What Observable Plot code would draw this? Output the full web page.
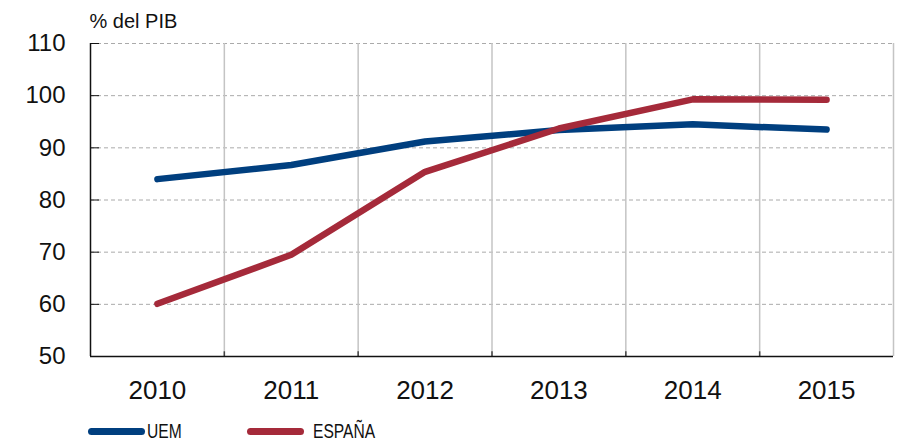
<!DOCTYPE html>
<html>
<head>
<meta charset="utf-8">
<script src="https://cdn.jsdelivr.net/npm/d3@7"></script>
<script src="https://cdn.jsdelivr.net/npm/@observablehq/plot@0.6"></script>
<style>
  html, body { margin: 0; padding: 0; background: #fff; }
  #wrap { position: relative; width: 898px; height: 442px; overflow: hidden; font-family: "Liberation Sans", Arial, sans-serif; }
  #legend { position: absolute; left: 0; top: 418px; width: 898px; height: 24px; }
  .sw { position: absolute; height: 7px; border-radius: 3.5px; top: 10px; }
  .lab { position: absolute; top: 3px; font-family: "Liberation Sans", Arial, sans-serif; font-size: 20px; line-height: 20px; color: #111; transform: scaleX(0.78); transform-origin: 0 50%; white-space: nowrap; }
</style>
</head>
<body>
<div id="wrap">
  <div id="chart"></div>
  <div id="legend"></div>
</div>
<script>
const years = [2010, 2011, 2012, 2013, 2014, 2015];
const uem = [84.0, 86.7, 91.2, 93.4, 94.5, 93.5];
const espana = [60.1, 69.5, 85.4, 93.7, 99.3, 99.2];
const seriesNames = ["UEM", "ESPAÑA"];
const seriesColors = ["#003f7f", "#a52a3a"];
const yTicks = [50, 60, 70, 80, 90, 100, 110];
const unitLabel = "% del PIB";

const rows = [];
years.forEach((yr, i) => {
  rows.push({year: yr, value: uem[i], series: seriesNames[0]});
  rows.push({year: yr, value: espana[i], series: seriesNames[1]});
});
const boundaries = years.map(y => y + 0.5);
const gridY = yTicks.slice(1);

const chart = Plot.plot({
  width: 898,
  height: 410,
  marginTop: 43,
  marginBottom: 54,
  marginLeft: 90,
  marginRight: 5,
  style: {fontFamily: "'Liberation Sans', Arial, sans-serif", background: "#fff"},
  x: {domain: [years[0] - 0.5, years[years.length - 1] + 0.5]},
  y: {domain: [50, 110]},
  color: {domain: seriesNames, range: seriesColors},
  marks: [
    Plot.ruleY(gridY, {stroke: "#aaa", strokeWidth: 1, strokeDasharray: "4,3"}),
    Plot.ruleX(boundaries, {stroke: "#c4c4c4", strokeWidth: 1.5}),
    Plot.ruleX(boundaries.slice(0, -1), {y1: 50, y2: 50.9, stroke: "#444", strokeWidth: 1.5}),
    Plot.axisY({ticks: yTicks, tickSize: 0, tickPadding: 25, fontSize: 24, fill: "#111", label: null}),
    Plot.axisY({ticks: yTicks, tickSize: 9, dx: 9, text: null, label: null, stroke: "#111"}),
    Plot.axisX({ticks: years, tickFormat: "d", tickSize: 0, tickPadding: 24, fontSize: 26, fill: "#111", label: null}),
    Plot.ruleX([years[0] - 0.5], {stroke: "#111", strokeWidth: 1.5}),
    Plot.ruleY([50], {stroke: "#111", strokeWidth: 1.5}),
    Plot.line(rows, {x: "year", y: "value", z: "series", stroke: "series", strokeWidth: 6.5, strokeLinecap: "round", strokeLinejoin: "round"}),
    Plot.text([unitLabel], {frameAnchor: "top-left", text: d => d, dx: -1, dy: -16, fontSize: 20, textAnchor: "start", lineAnchor: "bottom", fill: "#111"})
  ]
});
document.getElementById("chart").appendChild(chart);

const legend = document.getElementById("legend");
const swLeft = [88, 247];
const labLeft = [147, 313];
seriesNames.forEach((name, i) => {
  const sw = document.createElement("div");
  sw.className = "sw";
  sw.style.left = swLeft[i] + "px";
  sw.style.width = "57px";
  sw.style.background = seriesColors[i];
  legend.appendChild(sw);
  const lab = document.createElement("div");
  lab.className = "lab";
  lab.style.left = labLeft[i] + "px";
  lab.textContent = name;
  legend.appendChild(lab);
});
</script>
</body>
</html>
